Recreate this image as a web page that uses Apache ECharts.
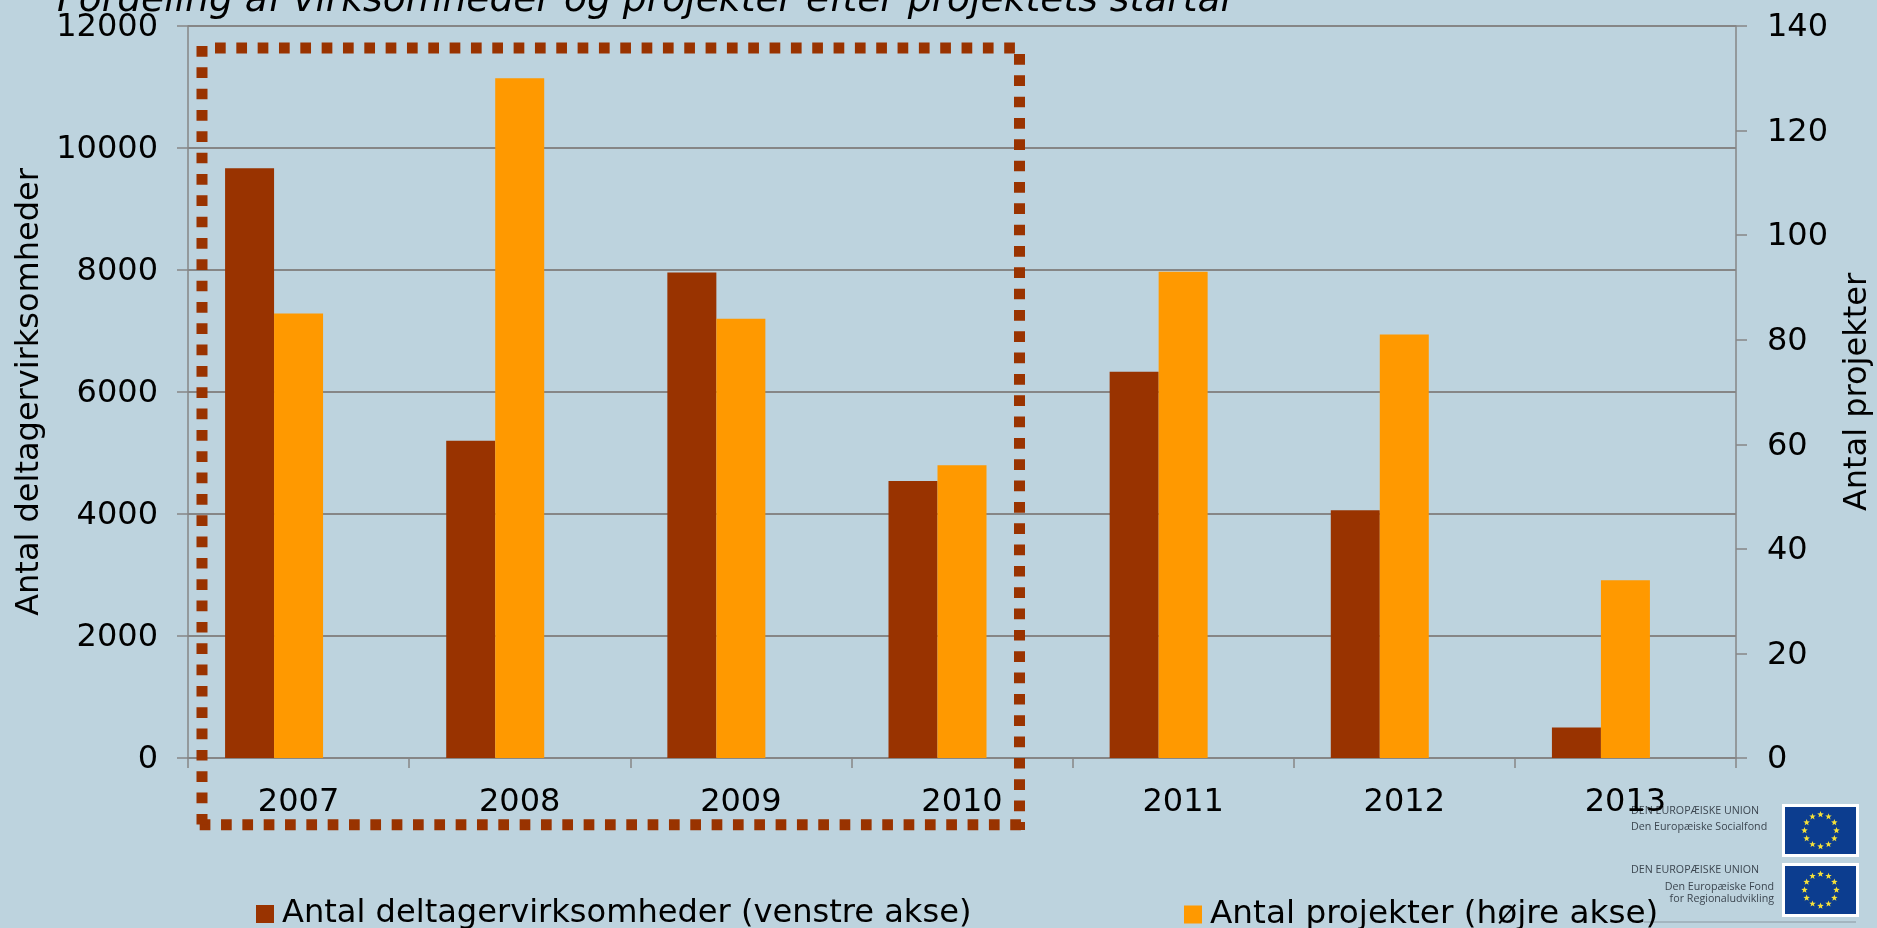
<!DOCTYPE html>
<html><head><meta charset="utf-8">
<style>html,body{margin:0;padding:0;background:#BDD3DE;overflow:hidden}#c{width:1877px;height:928px}</style>
<script src="https://cdn.jsdelivr.net/npm/echarts@6/dist/echarts.min.js"></script>
</head><body><div id="c"></div>
<script>
const categories = ['2007','2008','2009','2010','2011','2012','2013'];
const virksomheder = [9670,5200,7960,4540,6330,4060,500];
const projekter = [85,130,84,56,93,81,34];
const reserved = [null,null,null,null,null,null,null];
const titleText = 'Fordeling af virksomheder og projekter efter projektets startår';
const seriesNames = ['Antal deltagervirksomheder (venstre akse)','Antal projekter (højre akse)'];
const FONT = '"DejaVu Sans"';
const GRAY = '#868686';
const RUST = '#993300';
const chart = echarts.init(document.getElementById('c'));

function star(cx,cy,r){
  const p=[];
  for(let i=0;i<10;i++){
    const a=i*Math.PI/5, q=i%2?r*0.42:r;
    p.push([cx+Math.sin(a)*q,cy-Math.cos(a)*q]);
  }
  return p;
}
function flag(x,y,w,h){
  const cx=x+w/2, cy=y+h/2, items=[
    {type:'rect',shape:{x:x,y:y,width:w,height:h},style:{fill:'#0C3D8F',stroke:'#fff',lineWidth:3}}];
  for(let i=0;i<12;i++){
    const a=i*Math.PI/6;
    items.push({type:'polygon',shape:{points:star(cx+Math.sin(a)*16,cy-Math.cos(a)*16,3.4)},style:{fill:'#F5E13A'}});
  }
  return items;
}
function logoText(text,x,y,align){
  return {type:'text',style:{text:text,x:x,y:y,align:align,verticalAlign:'middle',fill:'#3c4650',font:'10.7px "Open Sans"'}};
}
function dashed(x1,y1,x2,y2){
  return {type:'line',z:100,shape:{x1,y1,x2,y2},style:{stroke:RUST,lineWidth:11,lineDash:[10.7,10.63],lineCap:'butt'}};
}

chart.setOption({
  animation:false,
  backgroundColor:'#BDD3DE',
  title:{text:titleText,left:57,top:-18,padding:0,textStyle:{fontFamily:FONT,fontStyle:'italic',fontWeight:'normal',fontSize:37.65,color:'#000'}},
  grid:{left:188,right:141,top:26,height:732,containLabel:false,outerBoundsMode:'none'},
  legend:[
    {left:256,top:898,padding:0,itemWidth:18,itemHeight:18,icon:'rect',
     data:[seriesNames[0]],textStyle:{fontFamily:FONT,fontSize:32.1,color:'#000',padding:[0,0,0,3]}},
    {left:1184,top:898,padding:0,itemWidth:18,itemHeight:18,icon:'rect',
     data:[seriesNames[1]],textStyle:{fontFamily:FONT,fontSize:32.7,color:'#000',padding:[0,0,0,3]}}
  ],
  xAxis:{type:'category',data:categories,
    axisLine:{lineStyle:{color:GRAY,width:2}},
    axisTick:{show:true,alignWithLabel:false,length:10,lineStyle:{color:GRAY,width:1.5}},
    axisLabel:{fontFamily:FONT,fontSize:32,color:'#000',margin:29}},
  yAxis:[
    {type:'value',min:0,max:12000,interval:2000,name:'Antal deltagervirksomheder',nameLocation:'middle',nameRotate:90,nameGap:138,
     nameTextStyle:{fontFamily:FONT,fontSize:32,color:'#000'},
     axisLine:{show:true,lineStyle:{color:GRAY,width:1.5}},
     axisTick:{show:true,length:11,lineStyle:{color:GRAY,width:1.5}},
     axisLabel:{fontFamily:FONT,fontSize:32,color:'#000',margin:30,verticalAlign:'top',lineHeight:4,formatter:v=>String(v)},
     splitLine:{show:true,lineStyle:{color:GRAY,width:2}}},
    {type:'value',min:0,max:140,interval:20,name:'Antal projekter',nameLocation:'middle',nameRotate:90,nameGap:106,
     nameTextStyle:{fontFamily:FONT,fontSize:32,color:'#000'},
     axisLine:{show:true,lineStyle:{color:GRAY,width:1.5}},
     axisTick:{show:true,length:11,lineStyle:{color:GRAY,width:1.5}},
     axisLabel:{fontFamily:FONT,fontSize:32,color:'#000',margin:31,verticalAlign:'top',lineHeight:4,formatter:v=>String(v)},
     splitLine:{show:false}}
  ],
  series:[
    {name:seriesNames[0],type:'bar',yAxisIndex:0,data:virksomheder,barWidth:49,barGap:0,itemStyle:{color:RUST}},
    {name:seriesNames[1],type:'bar',yAxisIndex:1,data:projekter,barWidth:49,barGap:0,itemStyle:{color:'#FF9900'}},
    {name:'',type:'bar',yAxisIndex:0,data:reserved,barWidth:49,barGap:0}
  ],
  graphic:{elements:[
    dashed(215,48,1016,48),
    dashed(1019.5,54,1019.5,830),
    dashed(199.7,824.7,1025,824.7),
    dashed(202,46,202,825),
    {type:'group',z:100,children:[
      ...flag(1783.5,805.5,74,50),...flag(1783.5,864.5,74,51),
      logoText('DEN EUROPÆISKE UNION',1631,811,'left'),
      logoText('Den Europæiske Socialfond',1631,827,'left'),
      logoText('DEN EUROPÆISKE UNION',1631,870,'left'),
      logoText('Den Europæiske Fond',1774,887,'right'),
      logoText('for Regionaludvikling',1774,899,'right'),
      {type:'line',shape:{x1:1644,y1:922,x2:1856,y2:922},style:{stroke:'#8a97a0',lineWidth:1}}
    ]}
  ]}
});
</script></body></html>
